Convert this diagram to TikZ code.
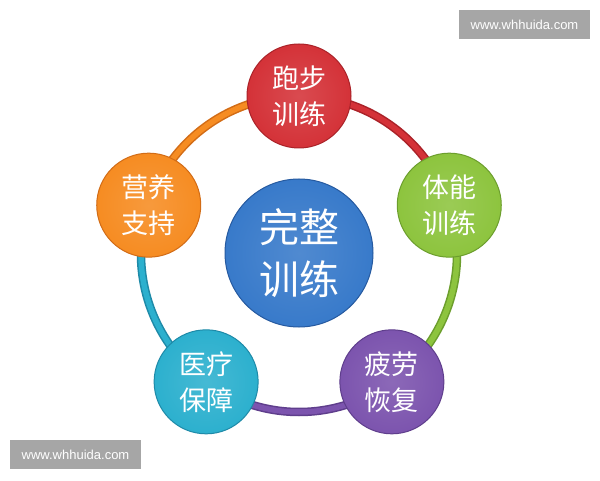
\documentclass[tikz,border=0pt]{standalone}
\usepackage{fontspec}
\usetikzlibrary{calc}
\newfontfamily\cjk{Noto Sans CJK SC}
\setmainfont{Liberation Sans}
\definecolor{cRed}{RGB}{212,50,56}
\definecolor{cRedD}{RGB}{170,34,40}
\definecolor{cGreen}{RGB}{141,196,62}
\definecolor{cGreenD}{RGB}{108,158,45}
\definecolor{cOrange}{RGB}{246,140,34}
\definecolor{cOrangeD}{RGB}{210,108,22}
\definecolor{cCyan}{RGB}{44,176,206}
\definecolor{cCyanD}{RGB}{30,138,168}
\definecolor{cPurple}{RGB}{124,84,174}
\definecolor{cPurpleD}{RGB}{95,62,140}
\definecolor{cBlue}{RGB}{56,122,202}
\definecolor{cBlueD}{RGB}{38,90,160}
\definecolor{wmgray}{RGB}{166,166,166}
\tikzset{
  ball/.style n args={2}{circle, minimum size=104pt, inner sep=0pt,
    shading=radial, inner color=#1!88!white, outer color=#1,
    draw=#2, line width=1pt, text=white,
    font=\cjk\fontsize{27}{36}\selectfont, align=center},
  bigball/.style n args={2}{circle, minimum size=148pt, inner sep=0pt,
    shading=radial, inner color=#1!88!white, outer color=#1,
    draw=#2, line width=1pt, text=white,
    font=\cjk\fontsize{40}{52}\selectfont, align=center},
  tubeD/.style={line width=8.5pt, draw=#1},
  tubeL/.style={line width=5.5pt, draw=#1},
  wmbox/.style={fill=wmgray, text=white, minimum width=131pt, minimum height=29pt,
    inner sep=0pt, font=\fontsize{13}{15}\selectfont}
}
\begin{document}
\begin{tikzpicture}[x=1pt,y=1pt]
\useasboundingbox (0,0) rectangle (600,480);
\fill[white] (0,0) rectangle (600,480);
\coordinate (C) at (299,226);
\coordinate (pT) at ($(C)+(90:158)$);
\coordinate (pR) at ($(C)+(18:158)$);
\coordinate (pBR) at ($(C)+(-54:158)$);
\coordinate (pBL) at ($(C)+(-126:158)$);
\coordinate (pL) at ($(C)+(162:158)$);
% ring arcs
\foreach \a/\b/\cc in {90/18/cRed, 18/-54/cGreen, -54/-126/cPurple, -126/-198/cCyan, 162/90/cOrange}{
  \draw[tubeD=\cc D] (C) ++(\a:158) arc[start angle=\a, end angle=\b, radius=158pt];
  \draw[tubeL=\cc] (C) ++(\a:158) arc[start angle=\a, end angle=\b, radius=158pt];
}
% nodes
\node[ball={cRed}{cRedD}] (top) at (pT) {跑步\\训练};
\node[ball={cGreen}{cGreenD}] (right) at (pR) {体能\\训练};
\node[ball={cPurple}{cPurpleD}] (br) at (pBR) {疲劳\\恢复};
\node[ball={cCyan}{cCyanD}] (bl) at (pBL) {医疗\\保障};
\node[ball={cOrange}{cOrangeD}] (left) at (pL) {营养\\支持};
\node[bigball={cBlue}{cBlueD}] (center) at (299,227) {完整\\训练};
% watermarks
\node[wmbox] (wm1) at (524.5,455.5) {www.whhuida.com};
\node[wmbox] (wm2) at (75.5,25.5) {www.whhuida.com};
\end{tikzpicture}
\end{document}
